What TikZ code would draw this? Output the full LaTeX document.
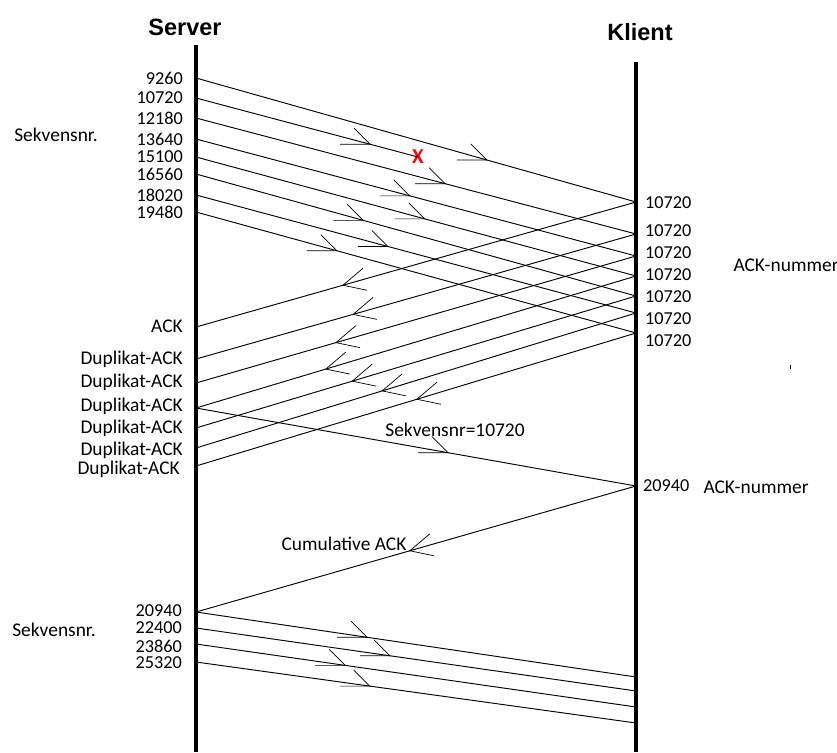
\documentclass[tikz,border=0pt]{standalone}
\usepackage{fontspec}
\setmainfont{Carlito}
\newfontfamily\headfont{Liberation Sans}
\usetikzlibrary{positioning,calc}
\tikzset{
  timeline/.style = {line width=3.2pt, black},
  msg/.style      = {line width=0.8pt, black},
  tipline/.style  = {line width=0.6pt, black},
  head/.style     = {font=\headfont\bfseries\fontsize{20}{24}\selectfont, inner sep=0pt},
  lbl/.style      = {font=\fontsize{16.5}{19}\selectfont, inner sep=0pt},
  numlbl/.style   = {font=\fontsize{15.5}{18}\selectfont, inner sep=0pt},
  srvlbl/.style   = {numlbl, anchor=east},
  clilbl/.style   = {numlbl, anchor=west},
  fwdtip/.pic     = {\draw[tipline] (-30,0) -- (0,0) -- (-16,-16);},
  backtip/.pic    = {\draw[tipline] (20,-17) -- (0,0) -- (24,5);},
}

\begin{document}
\begin{tikzpicture}[x=0.85pt, y=-0.85pt]
\useasboundingbox (0,0) rectangle (837,752);
% Time lines
\node[head] (server) at (185,27) {Server};
\node[head] (klient) at (640,32) {Klient};
\coordinate (stop) at (196,45);
\coordinate (sbot) at (196,752);
\coordinate (ktop) at (636,62);
\coordinate (kbot) at (636,752);
\draw[timeline] (stop) -- (sbot);
\draw[timeline] (ktop) -- (kbot);
% Segments sent by the server
\foreach \nr/\y in {9260/78, 10720/98, 12180/118, 13640/139, 15100/157, 16560/174, 18020/195, 19480/212} {
  \coordinate (s\nr) at (196,\y);
  \node[srvlbl] (l\nr) at (183,\y) {\nr};
}
\node[lbl] (seqtop) at (56,135) {Sekvensnr.};
% Points on the client
\foreach \i/\y in {1/202, 2/234, 3/256, 4/276, 5/296, 6/313, 7/333}
  \coordinate (k\i) at (636,\y);
\foreach \i/\y in {1/203, 2/231, 3/253, 4/275, 5/297, 6/319, 7/341}
  \node[clilbl] (ack\i) at (645,\y) {10720};
\node[lbl] (acknrtop) at (786,265) {ACK-nummer};
% Lost segment
\node[text=red, font=\bfseries\fontsize{18}{20}\selectfont, inner sep=0pt] (lost) at (418,157) {X};
\draw[msg] (s10720) -- (lost.center) coordinate[pos=0.784] (tip);
\pic at (tip) {fwdtip};
% Segments that arrive
\foreach \src/\dst/\p in {s9260/k1/0.661, s12180/k2/0.566, s13640/k3/0.486, s15100/k4/0.520,
                          s16560/k5/0.380, s18020/k6/0.436, s19480/k7/0.320} {
  \draw[msg] (\src) -- (\dst) coordinate[pos=\p] (tip);
  \pic at (tip) {fwdtip};
}
% ACKs back to the server
\foreach \i/\y in {1/327, 2/359, 3/383, 4/408, 5/428, 6/448, 7/466}
  \coordinate (sa\i) at (196,\y);
\node[lbl, anchor=east] (lack) at (183,326) {ACK};
\foreach \i/\y/\x in {2/359/183, 3/382/183, 4/406/183, 5/428/183, 6/450/183, 7/469/180}
  \node[lbl, anchor=east] (ldup\i) at (\x,\y) {Duplikat-ACK};
\foreach \i/\p in {1/0.666, 2/0.643, 3/0.682, 4/0.705, 5/0.645, 6/0.577, 7/0.498} {
  \draw[msg] (k\i) -- (sa\i) coordinate[pos=\p] (tip);
  \pic at (tip) {backtip};
}
% Retransmission and cumulative ACK
\coordinate (k20940) at (636,486);
\coordinate (s20940) at (196,612);
\draw[msg] (sa4) -- (k20940) coordinate[pos=0.573] (tip);
\pic at (tip) {fwdtip};
\node[lbl] (retrans) at (455,430) {Sekvensnr=10720};
\node[clilbl] (ack20940) at (643,486) {20940};
\node[lbl] (acknrmid) at (756,487) {ACK-nummer};
\draw[msg] (k20940) -- (s20940) coordinate[pos=0.514] (tip);
\pic at (tip) {backtip};
\node[lbl] (cumack) at (344,544) {Cumulative ACK};
% New segments
\foreach \nr/\y in {22400/628, 23860/644, 25320/662}
  \coordinate (s\nr) at (196,\y);
\foreach \nr/\y in {20940/611, 22400/628, 23860/646, 25320/663}
  \node[srvlbl] (l\nr) at (182,\y) {\nr};
\node[lbl] (seqbot) at (54,630) {Sekvensnr.};
\foreach \i/\y in {1/677, 2/691, 3/707, 4/723}
  \coordinate (e\i) at (636,\y);
\foreach \src/\dst/\p in {s20940/e1/0.389, s22400/e2/0.441, s23860/e3/0.339, s25320/e4/0.395} {
  \draw[msg] (\src) -- (\dst) coordinate[pos=\p] (tip);
  \pic at (tip) {fwdtip};
}
% stray mark
\coordinate (dot) at (790,365);
\draw[tipline] (dot) -- ++(0,4);
\end{tikzpicture}
\end{document}
